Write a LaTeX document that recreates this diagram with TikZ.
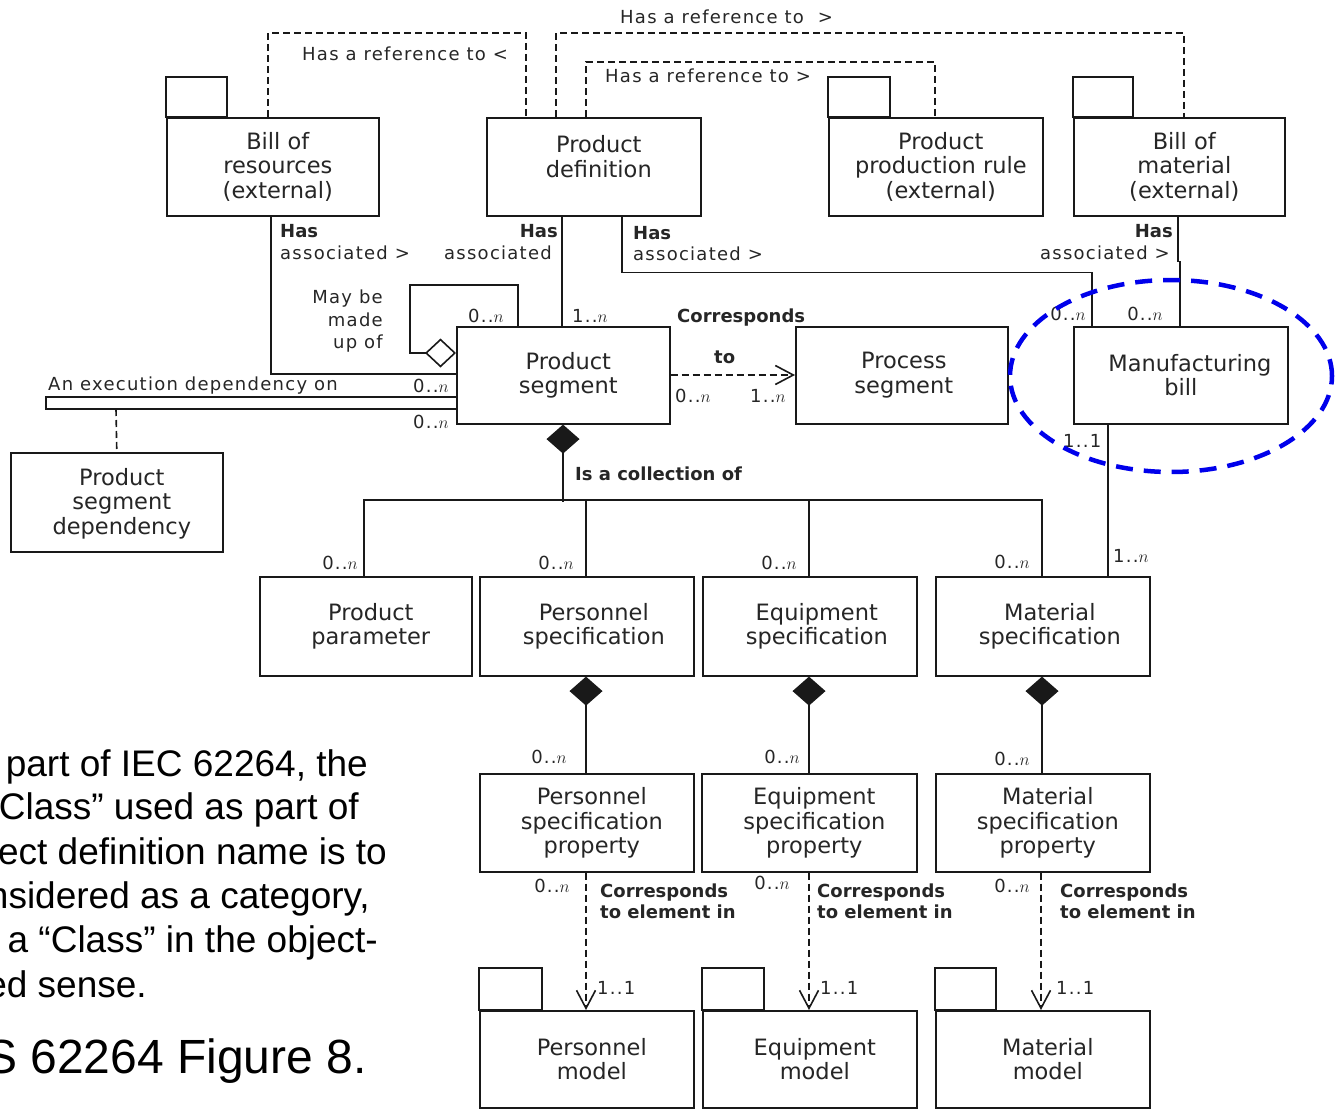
\documentclass[tikz,border=0pt]{standalone}
\usepackage{fontspec}
\setmainfont{DejaVu Sans}
\newfontfamily\labfont[LetterSpace=7]{DejaVu Sans}
\newfontfamily\notefont{Liberation Sans}
\usetikzlibrary{arrows.meta}
\definecolor{ink}{gray}{0.1}
\definecolor{txt}{gray}{0.15}
\definecolor{ovalblue}{RGB}{0,0,235}

\begin{document}
\begin{tikzpicture}[x=1pt,y=-1pt,
  box/.style={draw=ink, line width=1.6pt, fill=white, anchor=north west,
    inner sep=0pt, minimum width=214pt, minimum height=98pt},
  boxtext/.style={inner sep=0pt, align=center, xshift=5pt,
    font=\fontsize{22.5}{24.5}\selectfont, text=txt},
  tab/.style={draw=ink, line width=1.6pt},
  lab/.style={inner sep=0pt, font=\labfont\fontsize{18}{21}\selectfont, text=txt},
  blab/.style={inner sep=0pt, font=\bfseries\fontsize{18}{21}\selectfont, text=txt},
  note/.style={inner sep=0pt, anchor=base east, font=\notefont\fontsize{37}{44}\selectfont, text=black},
  link/.style={draw=ink, line width=1.6pt},
  ref/.style={draw=ink, line width=1.6pt, dash pattern=on 7pt off 4pt},
  dep/.style={ref, -{Straight Barb[length=18pt,width=19pt]}},
  comp/.style={link, {Diamond[length=29pt,width=33pt]}-},
  aggr/.style={link, {Diamond[open,length=31pt,width=29pt]}-},
]
\useasboundingbox (0,0) rectangle (1335,1110);

% ---------- top row: external packages and product definition
\node[box, minimum width=212pt, label={[boxtext]center:{Bill of\\resources\\(external)}}] (bor) at (166,117) {};
\node[box, label={[boxtext, yshift=10pt]center:{Product\\definition}}] (pd) at (486,117) {};
\node[box, label={[boxtext]center:{Product\\production rule\\(external)}}] (ppr) at (828,117) {};
\node[box, minimum width=211pt, label={[boxtext]center:{Bill of\\material\\(external)}}] (bom) at (1073,117) {};
\draw[tab] (bor.north west) rectangle ([xshift=61pt,yshift=40pt]bor.north west);
\draw[tab] (ppr.north west) rectangle ([xshift=62pt,yshift=40pt]ppr.north west);
\draw[tab] (bom.north west) rectangle ([xshift=60pt,yshift=40pt]bom.north west);

% ---------- second row
\node[box, minimum width=213pt, minimum height=97pt, label={[boxtext]center:{Product\\segment}}] (ps) at (456,326) {};
\node[box, minimum width=212pt, minimum height=97pt, label={[boxtext, xshift=-3pt]center:{Process\\segment}}] (prs) at (795,326) {};
\node[box, minimum height=97pt, label={[boxtext, xshift=-5pt]center:{\hspace*{18pt}Manufacturing\\bill}}] (mb) at (1073,326) {};
\node[box, minimum width=212pt, minimum height=99pt, label={[boxtext, yshift=-1pt]center:{Product\\segment\\dependency}}] (psd) at (10,452) {};

% ---------- specifications
\node[box, minimum width=212pt, minimum height=99pt, label={[boxtext]center:{Product\\parameter}}] (pp) at (259,576) {};
\node[box, minimum height=99pt, label={[boxtext, xshift=2pt]center:{Personnel\\specification}}] (pspec) at (479,576) {};
\node[box, minimum height=99pt, label={[boxtext, xshift=2pt]center:{Equipment\\specification}}] (espec) at (702,576) {};
\node[box, minimum height=99pt, label={[boxtext, xshift=2pt]center:{Material\\specification}}] (mspec) at (935,576) {};

% ---------- properties
\node[box, label={[boxtext]center:{Personnel\\specification\\property}}] (pprop) at (479,773) {};
\node[box, minimum width=215pt, label={[boxtext]center:{Equipment\\specification\\property}}] (eprop) at (701,773) {};
\node[box, label={[boxtext]center:{Material\\specification\\property}}] (mprop) at (935,773) {};

% ---------- models (packages)
\node[box, minimum height=97pt, label={[boxtext]center:{Personnel\\model}}] (pmod) at (479,1010) {};
\node[box, minimum height=97pt, label={[boxtext]center:{Equipment\\model}}] (emod) at (702,1010) {};
\node[box, minimum height=97pt, label={[boxtext]center:{Material\\model}}] (mmod) at (935,1010) {};
\draw[tab] (pmod.north west) rectangle ([xshift=63pt,yshift=42pt]pmod.north west);
\draw[tab] (emod.north west) rectangle ([xshift=62pt,yshift=42pt]emod.north west);
\draw[tab] (mmod.north west) rectangle ([xshift=61pt,yshift=42pt]mmod.north west);

% ---------- reference links
\draw[ref] ([xshift=102pt]bor.north west) -- ++(0,-84) -| ([xshift=40pt]pd.north west);
\draw[ref] ([xshift=70pt]pd.north west) -- ++(0,-84) -| ([xshift=111pt]bom.north west);
\draw[ref] ([xshift=100pt]pd.north west) -- ++(0,-55) -| ([xshift=107pt]ppr.north west);
\node[lab, anchor=base west] (r1) at (302,61) {Has a reference to <};
\node[lab, anchor=base west] (r2) at (620,24) {Has a reference to~ >};
\node[lab, anchor=base west] (r3) at (605,83) {Has a reference to >};

% ---------- associations to product segment and manufacturing bill
\draw[link] ([xshift=105pt]bor.south west) |- ([yshift=-48pt]ps.north west);
\draw[link] ([xshift=76pt]pd.south west) -- ([xshift=106pt]ps.north west);
\draw[link] ([xshift=136pt]pd.south west) -- ++(0,56) -| ([xshift=19pt]mb.north west);
\draw[link] ([xshift=105pt]bom.south west) -- ++(0,45) -- ++(2,0) -- ([xshift=107pt]mb.north west);

\node[blab, anchor=base west] (a1) at (280,237) {Has};
\node[lab, anchor=base west] (a2) at (280,259) {associated >};
\node[blab, anchor=base east] (a3) at (558,237) {Has};
\node[lab, anchor=base east] (a4) at (552,259) {associated};
\node[blab, anchor=base west] (a5) at (633,239) {Has};
\node[lab, anchor=base west] (a6) at (633,260) {associated >};
\node[blab, anchor=base east] (a7) at (1173,237) {Has};
\node[lab, anchor=base east] (a8) at (1170,259) {associated >};

\node[lab, anchor=base east] (m1) at (1086,320) {0..$n$};
\node[lab, anchor=base east] (m2) at (1163,320) {0..$n$};
\node[lab, anchor=base west] (m6) at (572,322) {1..$n$};

% ---------- self aggregation
\draw[aggr] ([yshift=-27pt]ps.north west) -- ++(-46,0) -- ++(0,-68) -| ([xshift=62pt]ps.north west);
\node[lab, anchor=base west] (m5) at (468,322) {0..$n$};
\node[lab, anchor=base east] (may1) at (383,303) {May be};
\node[lab, anchor=base east] (may2) at (383,326) {made};
\node[lab, anchor=base east] (may3) at (383,348) {up of};

% ---------- execution dependency
\draw[link] ([yshift=-71pt]ps.north west) -- ++(-410,0) -- ++(0,12) -- ([yshift=-83pt]ps.north west);
\coordinate (depbar) at (116,409);
\draw[ref] (depbar) -- (psd.north);
\node[lab, anchor=base west] (e1) at (48,390) {An execution dependency on};
\node[lab, anchor=base west] (m9) at (413,392) {0..$n$};
\node[lab, anchor=base west] (m10) at (413,428) {0..$n$};

% ---------- product segment corresponds to process segment
\draw[dep] ([yshift=-49pt]ps.north east) -- ([yshift=-49pt]prs.north west);
\node[blab, anchor=base west] (c1) at (677,322) {Corresponds};
\node[blab, anchor=base west] (c2) at (714,363) {to};
\node[lab, anchor=base west] (m7) at (675,402) {0..$n$};
\node[lab, anchor=base west] (m8) at (750,402) {1..$n$};

% ---------- manufacturing bill to material specification
\draw[link] ([xshift=35pt]mb.south west) -- ([xshift=173pt]mspec.north west);
\node[lab, anchor=base west] (m3) at (1063,447) {1..1};
\node[lab, anchor=base west] (m4) at (1113,562) {1..$n$};

% ---------- collection of specifications
\draw[comp] ([xshift=107pt]ps.south west) -- ++(0,77);
\draw[link] ([xshift=105pt]pp.north west) -- ++(0,-76) -| ([xshift=107pt]mspec.north west);
\draw[link] ([xshift=107pt]pspec.north west) -- ++(0,-76);
\draw[link] ([xshift=107pt]espec.north west) -- ++(0,-76);
\node[blab, anchor=base west] (coll) at (575,480) {Is a collection of};
\node[lab, anchor=base east] (s1) at (358,569) {0..$n$};
\node[lab, anchor=base east] (s2) at (574,569) {0..$n$};
\node[lab, anchor=base east] (s3) at (797,569) {0..$n$};
\node[lab, anchor=base east] (s4) at (1030,568) {0..$n$};

% ---------- specification properties
\draw[comp] ([xshift=107pt]pspec.south west) -- ([xshift=107pt]pprop.north west);
\draw[comp] ([xshift=107pt]espec.south west) -- ([xshift=108pt]eprop.north west);
\draw[comp] ([xshift=107pt]mspec.south west) -- ([xshift=107pt]mprop.north west);
\node[lab, anchor=base east] (p1) at (567,763) {0..$n$};
\node[lab, anchor=base east] (p2) at (800,763) {0..$n$};
\node[lab, anchor=base east] (p3) at (1030,765) {0..$n$};

% ---------- properties correspond to model elements
\draw[dep] ([xshift=107pt]pprop.south west) -- ([xshift=107pt]pmod.north west);
\draw[dep] ([xshift=108pt]eprop.south west) -- ([xshift=107pt]emod.north west);
\draw[dep] ([xshift=106pt]mprop.south west) -- ([xshift=106pt]mmod.north west);
\node[lab, anchor=base east] (q1) at (570,892) {0..$n$};
\node[lab, anchor=base east] (q2) at (790,889) {0..$n$};
\node[lab, anchor=base east] (q3) at (1030,892) {0..$n$};
\node[blab, anchor=base west] (k1) at (600,897) {Corresponds};
\node[blab, anchor=base west] (k1b) at (600,918) {to element in};
\node[blab, anchor=base west] (k2) at (817,897) {Corresponds};
\node[blab, anchor=base west] (k2b) at (817,918) {to element in};
\node[blab, anchor=base west] (k3) at (1060,897) {Corresponds};
\node[blab, anchor=base west] (k3b) at (1060,918) {to element in};
\node[lab, anchor=base west] (u1) at (597,994) {1..1};
\node[lab, anchor=base west] (u2) at (820,994) {1..1};
\node[lab, anchor=base west] (u3) at (1056,994) {1..1};

% ---------- explanatory note
\node[note] (n1) at (368,776) {part of IEC 62264, the};
\node[note] (n2) at (359,819) {Class” used as part of};
\node[note] (n3) at (387,864) {ect definition name is to};
\node[note] (n4) at (370,908) {nsidered as a category,};
\node[note] (n5) at (378,952) {a “Class” in the object-};
\node[note] (n6) at (147,997) {ed sense.};
\node[note, font=\notefont\fontsize{48}{56}\selectfont] (fig) at (367,1073) {S 62264 Figure 8.};

% ---------- highlight around the manufacturing bill
\draw[ovalblue, line width=4.5pt, dash pattern=on 17pt off 11pt]
  (1171,376) ellipse [x radius=161pt, y radius=96pt];
\end{tikzpicture}
\end{document}
